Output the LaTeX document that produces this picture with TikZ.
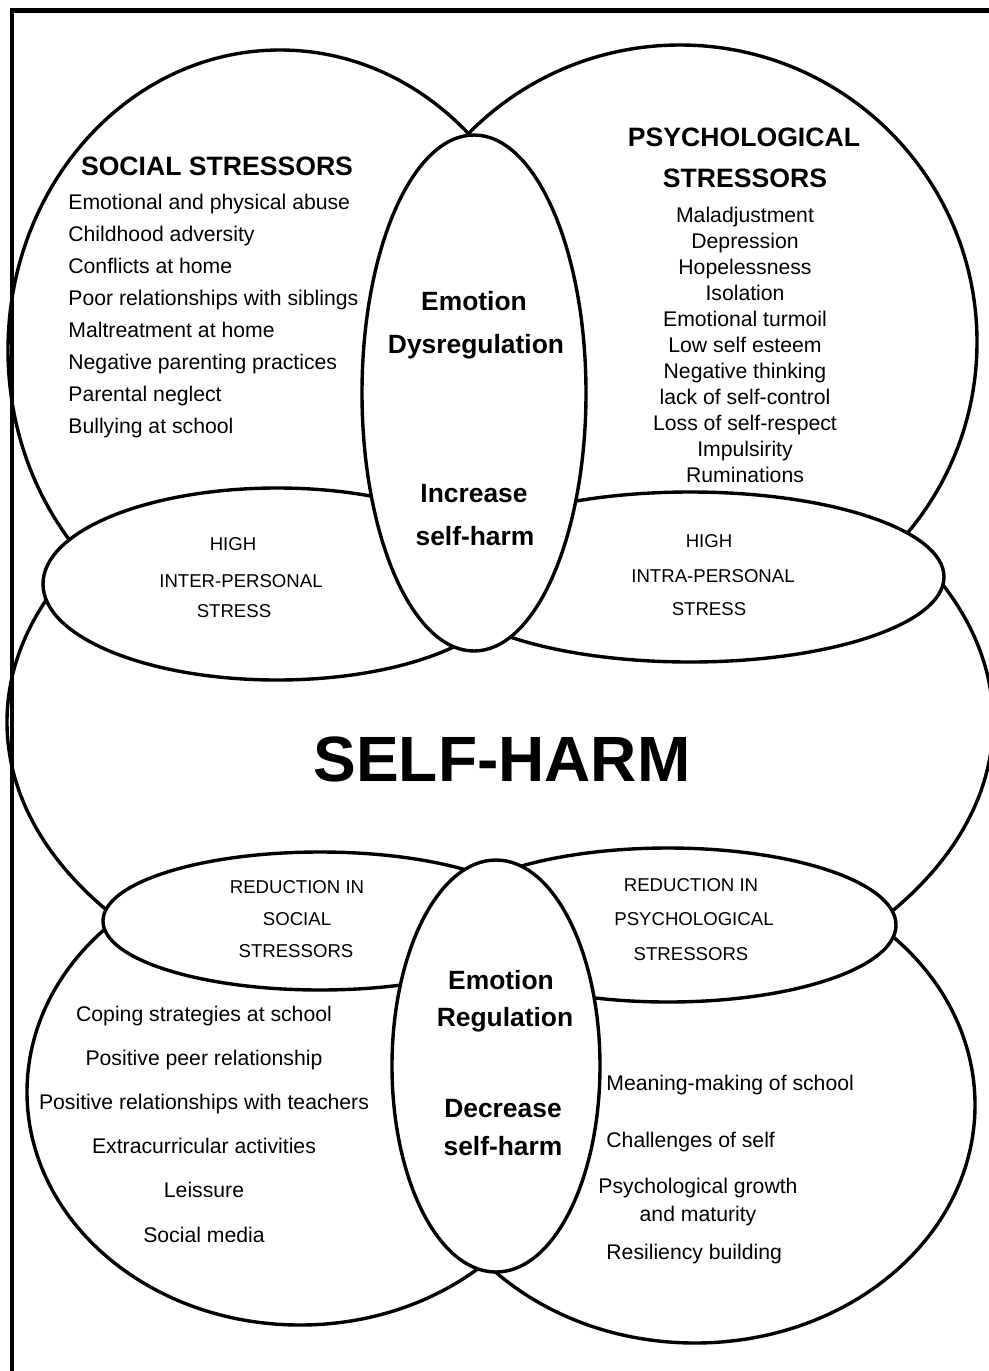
\documentclass[tikz,border=0pt]{standalone}
\usepackage{fontspec}
\setmainfont{Liberation Sans}

\begin{document}
\begin{tikzpicture}[
    x=0.5pt, y=-0.5pt,
    shp/.style={draw=black, line width=1.7pt, fill=white},
    head/.style={font=\fontsize{13.3}{16}\selectfont\bfseries, anchor=base, inner sep=0pt},
    mid/.style={font=\fontsize{13.2}{16}\selectfont\bfseries, anchor=base, inner sep=0pt},
    item/.style={font=\fontsize{10.6}{13}\selectfont, anchor=base, inner sep=0pt},
    caps/.style={font=\fontsize{9.3}{11}\selectfont, anchor=base, inner sep=0pt},
  ]
  \useasboundingbox (0,0) rectangle (989,1371);

  % Self-harm body
  \draw[shp] (500,722) ellipse [x radius=493, y radius=312];

  % Upper half: stressors
  \draw[shp] (280,350) ellipse [x radius=272, y radius=300];
  \draw[shp] (680,342) ellipse [x radius=297, y radius=297];
  \draw[shp] (277,584) ellipse [x radius=234, y radius=96];
  \draw[shp] (690,577) ellipse [x radius=254, y radius=85];
  \draw[shp] (474,393) ellipse [x radius=112, y radius=258];

  % Lower half: protective factors
  \draw[shp] (300,1092) ellipse [x radius=273, y radius=233];
  \draw[shp] (695,1105) ellipse [x radius=280, y radius=238];
  \draw[shp] (320,921) ellipse [x radius=217, y radius=69];
  \draw[shp] (668,925) ellipse [x radius=228, y radius=77];
  \draw[shp] (496,1066) ellipse [x radius=104, y radius=206];

  % Frame
  \draw[line width=2.4pt] (12,1371) -- (12,10.5) -- (989,10.5);

  % Social stressors
  \node[head] (soctitle) at (217,175) {SOCIAL STRESSORS};
  \foreach \t [count=\i] in {Emotional and physical abuse, Childhood adversity,
      Conflicts at home, Poor relationships with siblings, Maltreatment at home,
      Negative parenting practices, Parental neglect, Bullying at school}
    \node[item, anchor=base west] (soc\i) at (68,{209+32.1*(\i-1)}) {\t};

  % Psychological stressors
  \node[head] (psytitle) at (744,146) {PSYCHOLOGICAL};
  \node[head] (psytitleb) at (745,187.5) {STRESSORS};
  \foreach \t [count=\i] in {Maladjustment, Depression, Hopelessness, Isolation,
      Emotional turmoil, Low self esteem, Negative thinking, lack of self-control,
      Loss of self-respect, Impulsirity, Ruminations}
    \node[item] (psy\i) at (745,{222+26*(\i-1)}) {\t};

  % Emotion dysregulation
  \node[mid] (dysa) at (474,310) {Emotion};
  \node[mid] (dysb) at (476,353) {Dysregulation};
  \node[mid] (inca) at (474,502) {Increase};
  \node[mid] (incb) at (475,545) {self-harm};

  % Inter / intra personal stress
  \node[caps] (intera) at (233,550) {HIGH};
  \node[caps] (interb) at (241,587) {INTER-PERSONAL};
  \node[caps] (interc) at (234,617) {STRESS};
  \node[caps] (intraa) at (709,547) {HIGH};
  \node[caps] (intrab) at (713,582) {INTRA-PERSONAL};
  \node[caps] (intrac) at (709,615) {STRESS};

  % Centre
  \node[font=\fontsize{32}{36}\selectfont\bfseries, anchor=base, inner sep=0pt]
    (selfharm) at (502,781) {SELF-HARM};

  % Reductions
  \node[caps] (reda) at (297,893) {REDUCTION IN};
  \node[caps] (redb) at (297,925) {SOCIAL};
  \node[caps] (redc) at (296,957) {STRESSORS};
  \node[caps] (redd) at (691,891) {REDUCTION IN};
  \node[caps] (rede) at (694,925) {PSYCHOLOGICAL};
  \node[caps] (redf) at (691,960) {STRESSORS};

  % Emotion regulation
  \node[mid] (rega) at (501,989) {Emotion};
  \node[mid] (regb) at (505,1026) {Regulation};
  \node[mid] (deca) at (503,1117) {Decrease};
  \node[mid] (decb) at (503,1155) {self-harm};

  % School and social factors
  \foreach \t [count=\i] in {Coping strategies at school, Positive peer relationship,
      Positive relationships with teachers, Extracurricular activities,
      Leissure, Social media}
    \node[item] (sch\i) at (204,{1021+44.2*(\i-1)}) {\t};

  % Personal growth factors
  \node[item, anchor=base west] (growa) at (606,1090) {Meaning-making of school};
  \node[item, anchor=base west] (growb) at (606,1147) {Challenges of self};
  \node[item] (growc) at (698,1193) {Psychological growth};
  \node[item] (growd) at (698,1221) {and maturity};
  \node[item, anchor=base west] (growe) at (606,1259) {Resiliency building};

\end{tikzpicture}
\end{document}
